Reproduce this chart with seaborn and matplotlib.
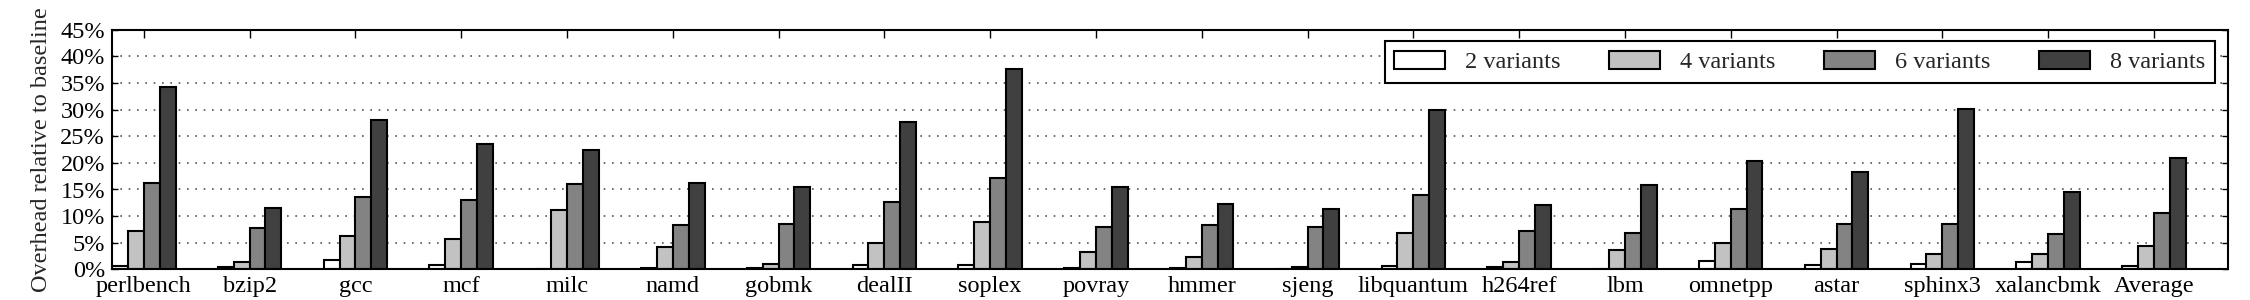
import pandas as pd
import matplotlib
matplotlib.use("Agg")
import matplotlib.pyplot as plt
import seaborn as sns
from matplotlib.ticker import FuncFormatter


# -------------------------
# Data
# -------------------------
benchmarks = [
    "perlbench", "bzip2", "gcc", "mcf", "milc", "namd", "gobmk", "dealII",
    "soplex", "povray", "hmmer", "sjeng", "libquantum", "h264ref", "lbm",
    "omnetpp", "astar", "sphinx3", "xalancbmk", "Average",
]
variants = ["2 variants", "4 variants", "6 variants", "8 variants"]

v2 = [0.6, 0.5, 1.7, 0.8, 0.0, 0.3, 0.2, 0.8, 0.8, 0.3,
      0.3, 0.0, 0.7, 0.4, 0.0, 1.6, 0.8, 1.0, 1.4, 0.7]
v4 = [7.3, 1.4, 6.3, 5.7, 11.2, 4.2, 1.1, 4.9, 8.9, 3.3,
      2.4, 0.5, 6.8, 1.4, 3.7, 4.9, 3.9, 2.8, 2.9, 4.4]
v6 = [16.2, 7.8, 13.5, 13.0, 16.0, 8.3, 8.5, 12.6, 17.2, 7.9,
      8.4, 8.0, 14.0, 7.2, 6.8, 11.4, 8.5, 8.5, 6.6, 10.5]
v8 = [34.2, 11.6, 28.0, 23.6, 22.4, 16.3, 15.4, 27.6, 37.7, 15.5,
      12.3, 11.3, 30.0, 12.1, 15.8, 20.3, 18.3, 30.1, 14.6, 20.9]

colors = ["#ffffff", "#c2c2c2", "#838383", "#404040"]

df = pd.DataFrame({
    "benchmark": benchmarks * 4,
    "variant": [v for v in variants for _ in benchmarks],
    "overhead": v2 + v4 + v6 + v8,
})


# -------------------------
# Style
# -------------------------
FS = 17.5
sns.set_style("white")
plt.rcParams["font.family"] = ["Liberation Serif", "DejaVu Serif"]
plt.rcParams["font.size"] = FS

fig = plt.figure(figsize=(22.5, 3), dpi=100)
ax = fig.add_axes([0.0498, 0.102, 0.9404, 0.799])


# -------------------------
# Bars
# -------------------------
sns.barplot(
    data=df,
    x="benchmark",
    y="overhead",
    hue="variant",
    palette=colors,
    saturation=1,
    width=0.6,
    edgecolor="black",
    linewidth=1.5,
    errorbar=None,
    ax=ax,
)

ax.set_xlim(-0.3, 19.7)
ax.set_ylim(0, 45)
ax.set_yticks(range(0, 46, 5))
ax.yaxis.set_major_formatter(FuncFormatter(lambda v, p: f"{int(v)}%"))
ax.set_xlabel("")
ax.set_ylabel("Overhead relative to baseline", fontsize=FS, labelpad=6)

ax.set_axisbelow(True)
ax.yaxis.grid(True, linestyle=(0, (1, 4)), color="#555555", linewidth=1.2)
ax.xaxis.grid(False)

for s in ax.spines.values():
    s.set_visible(True)
    s.set_color("black")
    s.set_linewidth(1.5)

ax.tick_params(axis="x", direction="in", top=True, bottom=True,
               length=6, width=1, pad=5, labelsize=FS, colors="black")
ax.tick_params(axis="y", direction="in", left=True, right=True,
               length=4, width=1, pad=5, labelsize=FS, colors="black")


# -------------------------
# Legend
# -------------------------
leg = ax.legend(
    loc="upper right",
    bbox_to_anchor=(0.994, 0.951),
    borderaxespad=0,
    ncol=4,
    fancybox=False,
    framealpha=1,
    edgecolor="black",
    handlelength=2.1,
    handleheight=0.74,
    handletextpad=0.82,
    columnspacing=2.0,
    borderpad=0.4,
    fontsize=FS,
)
leg.get_frame().set_linewidth(1.5)

fig.savefig("out.png", dpi=100)
